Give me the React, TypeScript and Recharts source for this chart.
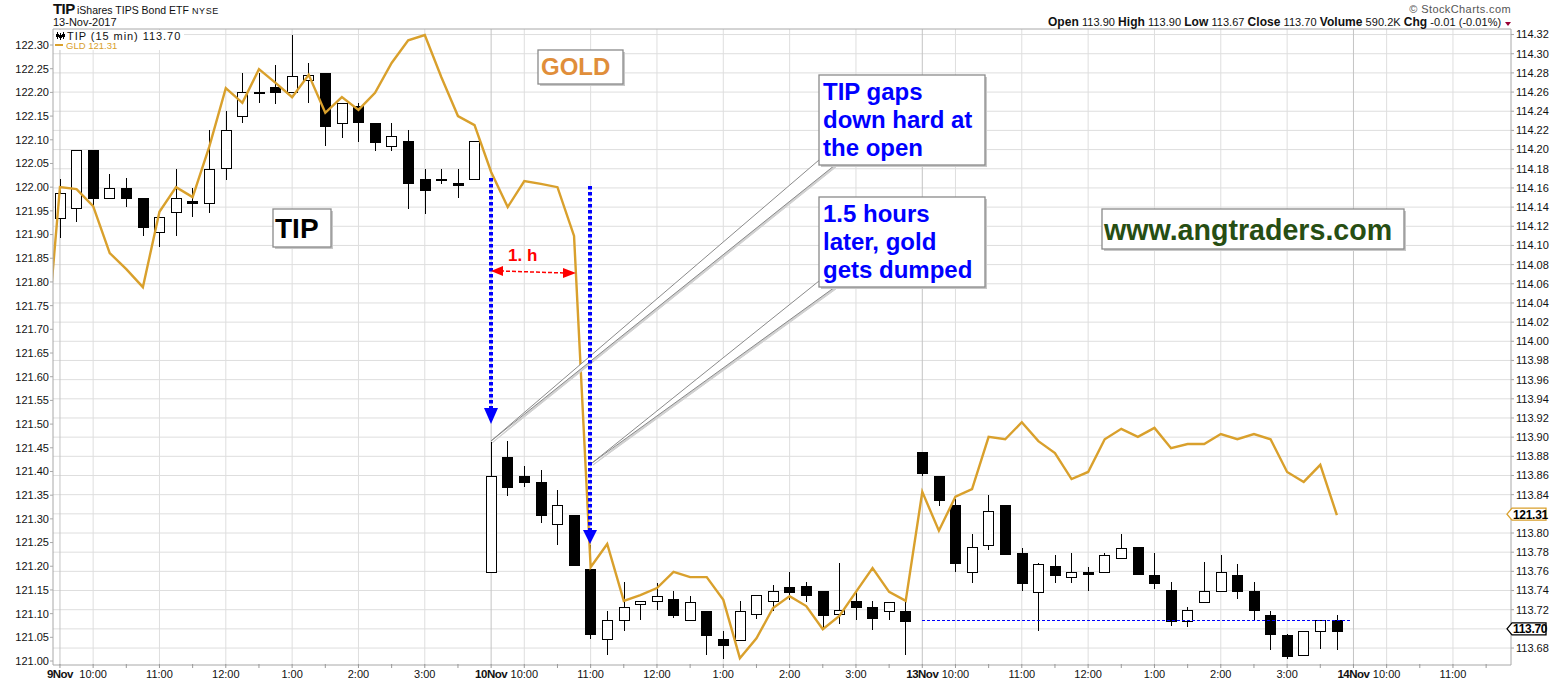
import {
  Bar,
  CartesianGrid,
  ComposedChart,
  Line,
  ReferenceDot,
  ReferenceLine,
  XAxis,
  YAxis,
} from "recharts";

// 15 min bars, index 0 = 9 Nov 9:30, 26 bars per session
const tipOpen = [
  114.129, 114.14, 114.2, 114.15, 114.16, 114.15, 114.114, 114.135, 114.146, 114.145, 114.18, 114.235, 114.26,
  114.265, 114.26, 114.273, 114.28, 114.228, 114.245, 114.228, 114.204, 114.209, 114.169, 114.169, 114.165, 114.169,
  113.759, 113.879, 113.859, 113.853, 113.809, 113.819, 113.762, 113.689, 113.709, 113.726, 113.729, 113.731, 113.709,
  113.719, 113.689, 113.689, 113.715, 113.729, 113.744, 113.745, 113.739, 113.716, 113.729, 113.723, 113.719, 113.719,
  113.884, 113.859, 113.829, 113.759, 113.788, 113.829, 113.779, 113.739, 113.766, 113.754, 113.759, 113.759, 113.774,
  113.785, 113.756, 113.741, 113.709, 113.729, 113.739, 113.756, 113.739, 113.714, 113.694, 113.673, 113.698, 113.709,
];
const tipClose = [
  114.155, 114.2, 114.15, 114.16, 114.15, 114.12, 114.13, 114.15, 114.144, 114.18, 114.22, 114.26, 114.26,
  114.26, 114.277, 114.278, 114.225, 114.249, 114.228, 114.208, 114.214, 114.165, 114.158, 114.169, 114.163, 114.209,
  113.859, 113.848, 113.853, 113.819, 113.829, 113.767, 113.694, 113.709, 113.723, 113.729, 113.734, 113.714, 113.728,
  113.694, 113.683, 113.719, 113.735, 113.739, 113.739, 113.736, 113.714, 113.72, 113.723, 113.712, 113.728, 113.709,
  113.862, 113.834, 113.768, 113.785, 113.823, 113.778, 113.748, 113.768, 113.757, 113.759, 113.757, 113.777, 113.784,
  113.757, 113.748, 113.709, 113.72, 113.74, 113.759, 113.739, 113.719, 113.694, 113.672, 113.698, 113.709, 113.698,
];
const tipHigh = [
  114.169, 114.2, 114.2, 114.175, 114.17, 114.15, 114.13, 114.18, 114.16, 114.22, 114.24, 114.28, 114.28,
  114.288, 114.32, 114.29, 114.28, 114.249, 114.249, 114.228, 114.228, 114.22, 114.18, 114.18, 114.18, 114.209,
  113.895, 113.896, 113.87, 113.866, 113.845, 113.819, 113.788, 113.719, 113.749, 113.729, 113.748, 113.739, 113.734,
  113.719, 113.698, 113.729, 113.735, 113.746, 113.759, 113.749, 113.739, 113.769, 113.739, 113.729, 113.728, 113.729,
  113.885, 113.859, 113.835, 113.799, 113.84, 113.829, 113.784, 113.769, 113.777, 113.779, 113.765, 113.779, 113.799,
  113.785, 113.779, 113.749, 113.723, 113.77, 113.777, 113.768, 113.749, 113.719, 113.695, 113.698, 113.709, 113.714,
];
const tipLow = [
  114.108, 114.124, 114.14, 114.15, 114.14, 114.11, 114.098, 114.11, 114.13, 114.134, 114.168, 114.228, 114.249,
  114.248, 114.26, 114.249, 114.204, 114.212, 114.208, 114.199, 114.199, 114.138, 114.133, 114.164, 114.149, 114.168,
  113.759, 113.839, 113.848, 113.81, 113.788, 113.767, 113.689, 113.673, 113.698, 113.709, 113.72, 113.711, 113.709,
  113.673, 113.669, 113.689, 113.71, 113.719, 113.73, 113.728, 113.7, 113.705, 113.709, 113.699, 113.709, 113.673,
  113.859, 113.828, 113.759, 113.748, 113.782, 113.778, 113.739, 113.698, 113.748, 113.748, 113.739, 113.759, 113.774,
  113.757, 113.742, 113.703, 113.702, 113.729, 113.738, 113.731, 113.709, 113.678, 113.669, 113.673, 113.679, 113.678,
];
// GLD closes, one point before the first TIP bar
const gldClose = [
  121.591, 122.0, 121.996, 121.96, 121.861, 121.827, 121.789, 121.948, 122.0, 121.979, 122.085, 122.209, 122.178,
  122.249, 122.22, 122.19, 122.237, 122.157, 122.19, 122.163, 122.199, 122.262, 122.31, 122.321, 122.232, 122.15, 122.131,
  122.032, 121.958, 122.013, 122.007, 122.0, 121.897, 121.198, 121.247, 121.127, 121.139, 121.154, 121.188, 121.177,
  121.177, 121.129, 121.006, 121.048, 121.112, 121.137, 121.116, 121.067, 121.095, 121.146, 121.196, 121.146, 121.127,
  121.357, 121.275, 121.347, 121.363, 121.473, 121.468, 121.504, 121.464, 121.439, 121.384, 121.399, 121.468, 121.49,
  121.473, 121.492, 121.449, 121.458, 121.458, 121.479, 121.468, 121.479, 121.468, 121.399, 121.378, 121.414, 121.308,
];

const xTicks = [
  0, 2, 4, 6, 8, 10, 12, 14, 16, 18, 20, 22, 24,
  26, 28, 30, 32, 34, 36, 38, 40, 42, 44, 46, 48, 50,
  52, 54, 56, 58, 60, 62, 64, 66, 68, 70, 72, 74, 76,
  78, 80, 82, 84, 86,
];
const xLabels = [
  "9Nov", "10:00", "", "11:00", "", "12:00", "", "1:00", "", "2:00", "", "3:00", "",
  "10Nov", "10:00", "", "11:00", "", "12:00", "", "1:00", "", "2:00", "", "3:00", "",
  "13Nov", "10:00", "", "11:00", "", "12:00", "", "1:00", "", "2:00", "", "3:00", "",
  "14Nov", "10:00", "", "11:00", "",
];
const dateLines = [0, 26, 52, 78];
const hourLines = [2, 6, 10, 14, 18, 22, 28, 32, 36, 40, 44, 48, 54, 58, 62, 66, 70, 74, 80, 84];

const gldTicks = [
  121.0, 121.05, 121.1, 121.15, 121.2, 121.25, 121.3, 121.35, 121.4, 121.45, 121.5, 121.55, 121.6, 121.65,
  121.7, 121.75, 121.8, 121.85, 121.9, 121.95, 122.0, 122.05, 122.1, 122.15, 122.2, 122.25, 122.3,
];
const tipTicks = [
  113.68, 113.7, 113.72, 113.74, 113.76, 113.78, 113.8, 113.82, 113.84, 113.86, 113.88, 113.9, 113.92, 113.94,
  113.96, 113.98, 114.0, 114.02, 114.04, 114.06, 114.08, 114.1, 114.12, 114.14, 114.16, 114.18, 114.2, 114.22,
  114.24, 114.26, 114.28, 114.3, 114.32,
];
// these two sit under the price tags
const tipHiddenTicks = [113.7, 113.82];

const rows = gldClose.map((gld, k) => {
  const i = k - 1;
  return i < 0
    ? { i, gld }
    : { i, gld, open: tipOpen[i], close: tipClose[i], high: tipHigh[i], low: tipLow[i], range: [tipLow[i], tipHigh[i]] };
});

const FONT = "'Liberation Sans', Arial, sans-serif";
const GOLD = "#d9a02c";
const X_DOMAIN = [-0.42, 87.5];

function Candle(props: any) {
  const { x, y, width, height, payload } = props;
  if (!payload || payload.high === undefined) return null;
  const k = height / (payload.high - payload.low);
  const cx = Math.round(x + width / 2) + 0.5;
  const up = payload.close >= payload.open;
  const top = y + (payload.high - Math.max(payload.open, payload.close)) * k;
  const h = Math.abs(payload.open - payload.close) * k;
  return (
    <g shapeRendering="crispEdges">
      <line x1={cx} x2={cx} y1={y} y2={y + height} stroke="#000" />
      <rect
        x={cx - 5}
        y={Math.round(top) + 0.5}
        width={10}
        height={Math.max(Math.round(h), 1)}
        fill={up ? "#fff" : "#000"}
        stroke="#000"
      />
    </g>
  );
}

function DateTick(props: any) {
  const { x, y, payload } = props;
  const label = xLabels[xTicks.indexOf(payload.value)];
  const isDate = label.includes("Nov");
  return (
    <g>
      <line x1={x} x2={x} y1={y - 3} y2={y + 1} stroke="#999" />
      {label && (
        <text
          x={x}
          y={y + 11}
          textAnchor="middle"
          fontFamily={FONT}
          fontSize={isDate ? 11.5 : 11}
          fontWeight={isDate ? "bold" : "normal"}
          letterSpacing={isDate ? -0.5 : 0}
          fill="#111"
        >
          {label}
        </text>
      )}
    </g>
  );
}

function PriceTag({ cx, cy, label, color }: any) {
  const l = cx - 4;
  const pts = `${l},${cy} ${l + 5},${cy - 6} ${l + 39},${cy - 6} ${l + 39},${cy + 6} ${l + 5},${cy + 6}`;
  return (
    <g>
      <polygon points={pts} fill="#fff" stroke={color} strokeWidth={1.3} />
      <text x={l + 6} y={cy + 4.5} fontFamily={FONT} fontSize={12} fontWeight="bold" letterSpacing={-0.3} fill="#000">
        {label}
      </text>
    </g>
  );
}

function NoteBox({ x, y, w, h }: any) {
  return (
    <g>
      <rect x={x + 2} y={y + 2} width={w} height={h} fill="#c8c8c8" />
      <rect x={x} y={y} width={w} height={h} fill="#fff" stroke="#8a8a8a" strokeWidth={1.3} />
    </g>
  );
}

function Leader({ points }: { points: string }) {
  return (
    <g>
      <polygon points={points} fill="#d0d0d0" stroke="#d0d0d0" transform="translate(1,2)" />
      <polygon points={points} fill="#fff" stroke="#8a8a8a" />
    </g>
  );
}

function Notes() {
  const blue = "#0000ff";
  return (
    <svg
      width={1565}
      height={681}
      style={{ position: "absolute", left: 0, top: 0, pointerEvents: "none" }}
      fontFamily={FONT}
    >
      <text x={53} y={14} fontSize={15} fontWeight="bold" fill="#111" letterSpacing={-0.6}>TIP</text>
      <text x={77} y={14} fontSize={10.5} fill="#111">iShares TIPS Bond ETF</text>
      <text x={192} y={14} fontSize={9} fill="#111" letterSpacing={0.6}>NYSE</text>
      <text x={53} y={26} fontSize={11} fill="#111">13-Nov-2017</text>

      <text x={1511} y={13} textAnchor="end" fontSize={11} fill="#555" letterSpacing={0.4}>© StockCharts.com</text>
      <text x={1048} y={26} fontSize={11} fill="#111" letterSpacing={0.04}>
        <tspan fontWeight="bold" fontSize={12}>Open</tspan> 113.90 <tspan fontWeight="bold" fontSize={12}> High</tspan> 113.90{" "}
        <tspan fontWeight="bold" fontSize={12}> Low</tspan> 113.67 <tspan fontWeight="bold" fontSize={12}> Close</tspan> 113.70{" "}
        <tspan fontWeight="bold" fontSize={12}> Volume</tspan> 590.2K <tspan fontWeight="bold" fontSize={12}> Chg</tspan> -0.01 (-0.01%)
      </text>
      <polygon points="1505,22 1511,22 1508,26" fill="#990033" />

      <rect x={54} y={30} width={130} height={20} fill="#fff" />
      <path d="M57.5 32v7M60.5 33v7M63.5 32v7" stroke="#000" />
      <path d="M56 34h3v3h-3zM59 35h3v3h-3zM62 34h3v3h-3z" fill="#000" />
      <text x={67} y={40} fontSize={11} fill="#111" letterSpacing={0.95}>TIP (15 min) 113.70</text>
      <rect x={55} y={44} width={8} height={2} fill={GOLD} />
      <text x={66} y={49} fontSize={9.5} fill={GOLD}>GLD 121.31</text>

      <NoteBox x={538} y={50} w={85} h={34} />
      <text x={541} y={75} fontSize={24} fontWeight="bold" fill="#e08e3a">GOLD</text>
      <NoteBox x={273} y={209} w={58} h={38} />
      <text x={275} y={238} fontSize={28} fontWeight="bold" fill="#000">TIP</text>
      <NoteBox x={1102} y={209} w={302} h={40} />
      <text x={1104} y={240} fontSize={28.6} fontWeight="bold" fill="#274e13">www.angtraders.com</text>

      <Leader points="819,160 835,165 491,441" />
      <NoteBox x={819} y={75} w={166} h={90} />
      <g fontSize={24} fontWeight="bold" fill={blue}>
        <text x={823} y={100}>TIP gaps</text>
        <text x={823} y={128}>down hard at</text>
        <text x={823} y={156}>the open</text>
      </g>
      <Leader points="819,281 835,287 592,463" />
      <NoteBox x={819} y={197} w={166} h={90} />
      <g fontSize={24} fontWeight="bold" fill={blue}>
        <text x={823} y={222}>1.5 hours</text>
        <text x={823} y={250}>later, gold</text>
        <text x={823} y={278}>gets dumped</text>
      </g>

      <line x1={491} x2={491} y1={178} y2={410} stroke={blue} strokeWidth={4} strokeDasharray="3.5 2.5" />
      <polygon points="484,408 498,408 491,424" fill={blue} />
      <line x1={590} x2={590} y1={186} y2={531} stroke={blue} strokeWidth={4} strokeDasharray="3.5 2.5" />
      <polygon points="583,530 597,530 590,544" fill={blue} />

      <text x={508} y={261} fontSize={17} fontWeight="bold" fill="#ff0000">1. h</text>
      <line x1={500} x2={566} y1={271} y2={273} stroke="#ff0000" strokeWidth={1.5} strokeDasharray="4 2" />
      <polygon points="491,271 503,266 503,276" fill="#ff0000" />
      <polygon points="576,273 563,268 563,278" fill="#ff0000" />

      <line x1={922} x2={1352} y1={620.5} y2={620.5} stroke={blue} strokeDasharray="3 2" />
    </svg>
  );
}

export default function App() {
  return (
    <div style={{ position: "absolute", left: 0, top: 0, width: 1565, height: 681, background: "#fff" }}>
      <ComposedChart
        width={1565}
        height={681}
        data={rows}
        margin={{ top: 29, right: 0, bottom: 0, left: 0 }}
        barSize={10}
      >
        <CartesianGrid yAxisId="right" vertical={false} stroke="#dedede" syncWithTicks />
        <CartesianGrid xAxisId="hours" yAxisId="right" horizontal={false} stroke="#dedede" syncWithTicks />
        <CartesianGrid xAxisId="dates" yAxisId="right" horizontal={false} stroke="#c4c4c4" syncWithTicks />
        <XAxis
          dataKey="i"
          type="number"
          domain={X_DOMAIN}
          ticks={xTicks}
          interval={0}
          allowDataOverflow
          height={16}
          tick={<DateTick />}
          tickLine={false}
          tickSize={0}
          stroke="#a8a8a8"
        />
        {/* hidden axes only feed the vertical grid lines */}
        <XAxis xAxisId="hours" dataKey="i" type="number" domain={X_DOMAIN} ticks={hourLines} interval={0} allowDataOverflow hide />
        <XAxis xAxisId="dates" dataKey="i" type="number" domain={X_DOMAIN} ticks={dateLines} interval={0} allowDataOverflow hide />
        <YAxis
          yAxisId="left"
          orientation="left"
          width={53}
          domain={[120.9916, 122.3338]}
          ticks={gldTicks}
          interval={0}
          allowDataOverflow
          tickFormatter={(v) => Number(v).toFixed(2)}
          tick={{ fill: "#111", fontSize: 11, fontFamily: FONT }}
          tickSize={3}
          tickMargin={1}
          stroke="#a8a8a8"
        />
        <YAxis
          yAxisId="right"
          orientation="right"
          width={54}
          domain={[113.6623, 114.3258]}
          ticks={tipTicks}
          interval={0}
          allowDataOverflow
          tickFormatter={(v) => (tipHiddenTicks.includes(v) ? "" : Number(v).toFixed(2))}
          tick={{ fill: "#111", fontSize: 11, fontFamily: FONT }}
          tickSize={3}
          tickMargin={2}
          stroke="#a8a8a8"
        />
        <ReferenceLine y={114.3258} yAxisId="right" stroke="#a8a8a8" />
        <Line
          yAxisId="left"
          dataKey="gld"
          type="linear"
          stroke={GOLD}
          strokeWidth={2.4}
          dot={false}
          isAnimationActive={false}
        />
        <Bar yAxisId="right" dataKey="range" shape={<Candle />} isAnimationActive={false} />
        <ReferenceDot
          yAxisId="left"
          x={87.5}
          y={121.31}
          ifOverflow="visible"
          shape={<PriceTag label="121.31" color={GOLD} />}
        />
        <ReferenceDot
          yAxisId="right"
          x={87.5}
          y={113.7}
          ifOverflow="visible"
          shape={<PriceTag label="113.70" color="#000" />}
        />
      </ComposedChart>
      <Notes />
    </div>
  );
}
